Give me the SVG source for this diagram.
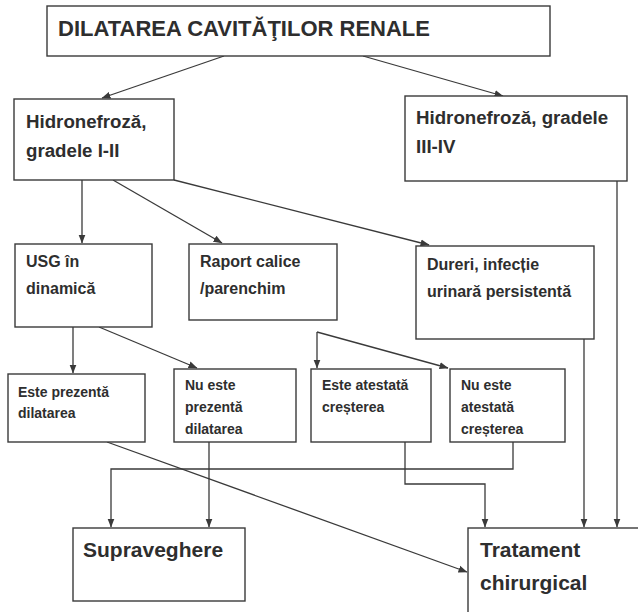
<svg xmlns="http://www.w3.org/2000/svg" width="638" height="612" viewBox="0 0 638 612">
  <defs>
    <marker id="ah" markerWidth="9" markerHeight="8" refX="8.5" refY="4" orient="auto" markerUnits="userSpaceOnUse">
      <path d="M0,0.5 L9,4 L0,7.5 Z" fill="#3a3a3a"/>
    </marker>
  </defs>
  <style>
    .box { fill: #ffffff; stroke: #3a3a3a; stroke-width: 1.4; }
    .t { font-family: "Liberation Sans", Arial, sans-serif; font-weight: bold; fill: #2e2e2e; }
    .title { font-size: 22px; }
    .l1 { font-size: 18.7px; }
    .l2 { font-size: 16px; }
    .l3 { font-size: 14px; }
    .l4 { font-size: 21px; }
    .c { fill: none; stroke: #3a3a3a; stroke-width: 1.3; }
    .a { marker-end: url(#ah); }
  </style>
  <rect width="638" height="612" fill="#ffffff"/>

  <g id="connectors">
    <line class="c a" x1="224" y1="56" x2="102" y2="98"/>
    <line class="c a" x1="363" y1="56" x2="503" y2="96"/>
    <line class="c a" x1="82" y1="180" x2="82" y2="243"/>
    <line class="c a" x1="113" y1="180" x2="222" y2="243"/>
    <line class="c a" x1="174" y1="180" x2="429" y2="245"/>
    <line class="c a" x1="73" y1="327" x2="73" y2="373"/>
    <line class="c a" x1="99" y1="327" x2="197" y2="368"/>
    <line class="c a" x1="317" y1="332" x2="317" y2="368"/>
    <line class="c a" x1="317" y1="332" x2="448" y2="368"/>
    <line class="c a" x1="107" y1="442" x2="467" y2="572"/>
    <line class="c a" x1="209" y1="442" x2="209" y2="527"/>
    <polyline class="c a" points="513,442 513,469 111,469 111,527"/>
    <polyline class="c a" points="405,442 405,484 485,484 485,527"/>
    <line class="c a" x1="584" y1="339" x2="584" y2="527"/>
    <line class="c a" x1="617" y1="181" x2="617" y2="527"/>
  </g>

  <g id="n-title">
    <rect class="box" x="47" y="6" width="503" height="50"/>
    <text class="t title" x="58" y="36">DILATAREA CAVITĂŢILOR RENALE</text>
  </g>
  <g id="n-hidro12">
    <rect class="box" x="14" y="99" width="160" height="81"/>
    <text class="t l1" x="26" y="128">Hidronefroză,</text>
    <text class="t l1" x="26" y="157">gradele I-II</text>
  </g>
  <g id="n-hidro34">
    <rect class="box" x="405" y="96" width="222" height="85"/>
    <text class="t l1" x="416" y="124">Hidronefroză, gradele</text>
    <text class="t l1" x="416" y="153">III-IV</text>
  </g>
  <g id="n-usg">
    <rect class="box" x="15" y="244" width="137" height="83"/>
    <text class="t l2" x="26" y="267">USG în</text>
    <text class="t l2" x="26" y="294">dinamică</text>
  </g>
  <g id="n-raport">
    <rect class="box" x="189" y="244" width="148" height="76"/>
    <text class="t l2" x="200" y="267">Raport calice</text>
    <text class="t l2" x="200" y="294">/parenchim</text>
  </g>
  <g id="n-dureri">
    <rect class="box" x="416" y="246" width="178" height="93"/>
    <text class="t l2" x="427" y="270">Dureri, infecție</text>
    <text class="t l2" x="427" y="297">urinară persistentă</text>
  </g>
  <g id="n-este-prezenta">
    <rect class="box" x="8" y="374" width="137" height="68"/>
    <text class="t l3" x="18" y="397">Este prezentă</text>
    <text class="t l3" x="18" y="418">dilatarea</text>
  </g>
  <g id="n-nu-prezenta">
    <rect class="box" x="174" y="369" width="122" height="73"/>
    <text class="t l3" x="185" y="390">Nu este</text>
    <text class="t l3" x="185" y="412">prezentă</text>
    <text class="t l3" x="185" y="434">dilatarea</text>
  </g>
  <g id="n-este-atestata">
    <rect class="box" x="311" y="369" width="120" height="73"/>
    <text class="t l3" x="322" y="390">Este atestată</text>
    <text class="t l3" x="322" y="412">creșterea</text>
  </g>
  <g id="n-nu-atestata">
    <rect class="box" x="450" y="369" width="115" height="73"/>
    <text class="t l3" x="461" y="390">Nu este</text>
    <text class="t l3" x="461" y="412">atestată</text>
    <text class="t l3" x="461" y="434">creșterea</text>
  </g>
  <g id="n-supraveghere">
    <rect class="box" x="73" y="528" width="172" height="73"/>
    <text class="t l4" x="83" y="557">Supraveghere</text>
  </g>
  <g id="n-tratament">
    <rect class="box" x="468" y="528" width="200" height="120"/>
    <text class="t l4" x="480" y="557">Tratament</text>
    <text class="t l4" x="480" y="590">chirurgical</text>
  </g>
</svg>
